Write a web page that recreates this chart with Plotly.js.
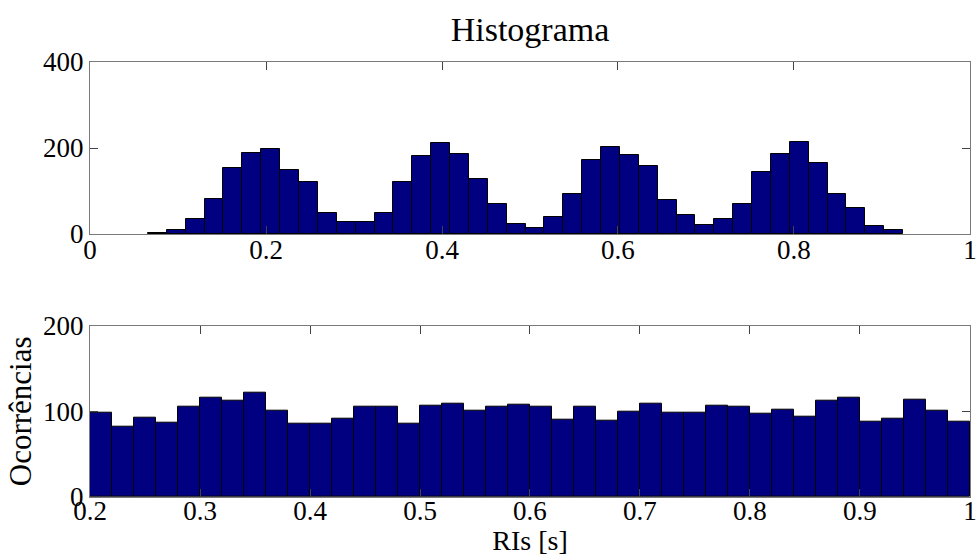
<!DOCTYPE html>
<html>
<head>
<meta charset="utf-8">
<script src="https://cdn.plot.ly/plotly-3.0.1.min.js"></script>
<style>html,body{margin:0;padding:0;background:#fff;}#chart{width:976px;height:556px;}</style>
</head>
<body>
<div id="chart"></div>
<script>
// Top histogram: bin centres and counts
const topBins = [0.0766,0.0981,0.1195,0.1410,0.1624,0.1839,0.2053,0.2268,0.2482,0.2697,
                 0.2911,0.3126,0.3340,0.3555,0.3769,0.3984,0.4198,0.4413,0.4627,0.4842,
                 0.5056,0.5271,0.5485,0.5700,0.5914,0.6129,0.6343,0.6558,0.6772,0.6987,
                 0.7201,0.7416,0.7630,0.7845,0.8059,0.8274,0.8488,0.8703,0.8917,0.9132];
const topCounts = [2,9,34,81,154,189,198,150,120,48,
                   29,28,50,122,181,212,185,127,69,24,
                   15,40,93,172,203,183,159,78,44,21,
                   36,69,144,187,214,164,93,61,19,9];

// Bottom histogram: bin centres and counts
const botBins = [0.21,0.23,0.25,0.27,0.29,0.31,0.33,0.35,0.37,0.39,
                 0.41,0.43,0.45,0.47,0.49,0.51,0.53,0.55,0.57,0.59,
                 0.61,0.63,0.65,0.67,0.69,0.71,0.73,0.75,0.77,0.79,
                 0.81,0.83,0.85,0.87,0.89,0.91,0.93,0.95,0.97,0.99];
const botCounts = [98,82,93,87,106,116,112,122,101,86,
                   86,92,105,106,86,107,109,101,105,108,
                   105,90,105,89,100,109,98,99,107,106,
                   97,102,94,113,116,88,92,114,101,88];

// Tick values / labels
const topXTicks = [0,0.2,0.4,0.6,0.8,1];
const topXLabels = ['0','0.2','0.4','0.6','0.8','1'];
const topYTicks = [0,200,400];
const botXTicks = [0.2,0.3,0.4,0.5,0.6,0.7,0.8,0.9,1];
const botXLabels = ['0.2','0.3','0.4','0.5','0.6','0.7','0.8','0.9','1'];
const botYTicks = [0,100,200];

const FONT = '"Liberation Serif", "Times New Roman", serif';
const barStyle = {color:'#000080', line:{color:'#000000', width:1}};

const traces = [
  {type:'bar', x:topBins, y:topCounts, xaxis:'x', yaxis:'y', marker:barStyle, hoverinfo:'x+y'},
  {type:'bar', x:botBins, y:botCounts, xaxis:'x2', yaxis:'y2', marker:barStyle, hoverinfo:'x+y'}
];

const axBase = {
  showgrid:false, zeroline:false, showline:true, linecolor:'#7a7a7a', linewidth:1,
  mirror:'ticks', ticks:'inside', ticklen:8, tickwidth:1, tickcolor:'#444',
  tickfont:{family:FONT, size:27, color:'#000'}, automargin:false, fixedrange:true,
  ticklabeloverflow:'allow'
};

const layout = {
  width:976, height:556,
  margin:{l:90, r:6, t:62, b:59},
  paper_bgcolor:'#fff', plot_bgcolor:'#fff',
  showlegend:false, bargap:0,
  font:{family:FONT, color:'#000'},
  title:{text:'Histograma', font:{family:FONT, size:34, color:'#000'},
         x:0.5, xref:'paper', xanchor:'center', y:0.947, yref:'container', yanchor:'middle'},
  xaxis:Object.assign({}, axBase, {domain:[0,1], anchor:'y', range:[0,1.00001],
         tickmode:'array', tickvals:topXTicks, ticktext:topXLabels, ticklabelstandoff:-8}),
  yaxis:Object.assign({}, axBase, {domain:[0.6046,1], anchor:'x', range:[0,400],
         tickmode:'array', tickvals:topYTicks, ticklabelstandoff:0}),
  xaxis2:Object.assign({}, axBase, {domain:[0,1], anchor:'y2', range:[0.2,1.00001],
         tickmode:'array', tickvals:botXTicks, ticktext:botXLabels, ticklabelstandoff:-10,
         title:{text:'RIs [s]', font:{family:FONT, size:28, color:'#000'}, standoff:0}}),
  yaxis2:Object.assign({}, axBase, {domain:[0,0.3938], anchor:'x2', range:[0,200],
         tickmode:'array', tickvals:botYTicks, ticklabelstandoff:0,
         title:{text:'Ocorrências', font:{family:FONT, size:31, color:'#000'}, standoff:2}})
};

Plotly.newPlot('chart', traces, layout, {displayModeBar:false});
</script>
</body>
</html>
